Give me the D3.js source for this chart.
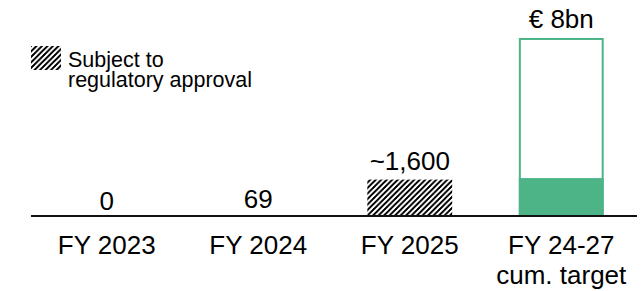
<!DOCTYPE html>
<html><head><meta charset="utf-8">
<script src="https://cdn.jsdelivr.net/npm/d3@7"></script>
<style>
html,body{margin:0;padding:0;background:#fff;}
svg{display:block;font-family:"Liberation Sans",Arial,sans-serif;}
</style></head>
<body>
<svg id="chart" width="644" height="291"></svg>
<script>
const categories = ["FY 2023", "FY 2024", "FY 2025", "FY 24-27"];
const categorySub = ["", "", "", "cum. target"];
const values = [0, 69, 1600, 8000];
const valueLabels = ["0", "69", "~1,600", "€ 8bn"];
const achievedCumulative = [0, 0, 0, 1669];
const hatched = [false, false, true, false];
const legendLines = ["Subject to", "regulatory approval"];

const green = "#4cb486";
const svg = d3.select("#chart");

const x = d3.scaleBand().domain(categories).range([31, 637]).paddingInner(0.44).paddingOuter(0.22);
const y = d3.scaleLinear().domain([0, 8000]).range([215, 38]);

const defs = svg.append("defs");
const s = 5.5;
const pat = defs.append("pattern").attr("id", "hatch").attr("patternUnits", "userSpaceOnUse")
  .attr("width", s).attr("height", s);
pat.append("path").attr("d", `M${-s/4},${s/4} L${s/4},${-s/4} M0,${s} L${s},0 M${s*3/4},${s*5/4} L${s*5/4},${s*3/4}`)
  .attr("stroke", "#000").attr("stroke-width", 1.4).attr("shape-rendering", "crispEdges");

const data = categories.map((c, i) => ({c, v: values[i], label: valueLabels[i], sub: categorySub[i], ach: achievedCumulative[i], hatch: hatched[i]}));

// bars
data.forEach((d, i) => {
  const x0 = x(d.c), bw = x.bandwidth();
  if (i === 3) {
    svg.append("rect").attr("x", x0 + 1).attr("y", y(d.v) + 1).attr("width", bw - 2).attr("height", y(0) - y(d.v) - 1)
      .attr("fill", "#fff").attr("stroke", green).attr("stroke-width", 2);
    svg.append("rect").attr("x", x0).attr("y", y(d.ach)).attr("width", bw).attr("height", y(0) - y(d.ach))
      .attr("fill", green);
  } else if (d.hatch) {
    svg.append("rect").attr("x", x0).attr("y", y(d.v)).attr("width", bw).attr("height", y(0) - y(d.v))
      .attr("fill", "url(#hatch)");
  }
  const gap = d.v < 100 ? 5 : 10;
  svg.append("text").attr("x", x0 + bw / 2).attr("y", y(d.v) - gap)
    .attr("text-anchor", "middle").attr("font-size", 26).attr("fill", "#000").text(d.label);
});

// axis line
svg.append("line").attr("x1", x.range()[0]).attr("x2", x.range()[1]).attr("y1", 216).attr("y2", 216)
  .attr("stroke", "#111").attr("stroke-width", 1.8);

// category labels
const axis = d3.axisBottom(x).tickSize(0).tickPadding(0);
const ag = svg.append("g").attr("transform", "translate(0,235)").call(axis);
ag.select(".domain").remove();
ag.selectAll(".tick text").attr("font-size", 26).attr("fill", "#000").attr("font-family", "Liberation Sans, Arial, sans-serif")
  .attr("dy", "0.72em");
data.forEach(d => {
  if (d.sub) {
    svg.append("text").attr("x", x(d.c) + x.bandwidth() / 2).attr("y", 283.5)
      .attr("text-anchor", "middle").attr("font-size", 26).attr("fill", "#000").text(d.sub);
  }
});

// legend
svg.append("rect").attr("x", 31).attr("y", 46).attr("width", 30).attr("height", 24).attr("fill", "url(#hatch)");
legendLines.forEach((t, i) => {
  svg.append("text").attr("x", 68).attr("y", 67 + i * 19.5).attr("font-size", 21.5).attr("fill", "#000").text(t);
});
</script>
</body></html>
